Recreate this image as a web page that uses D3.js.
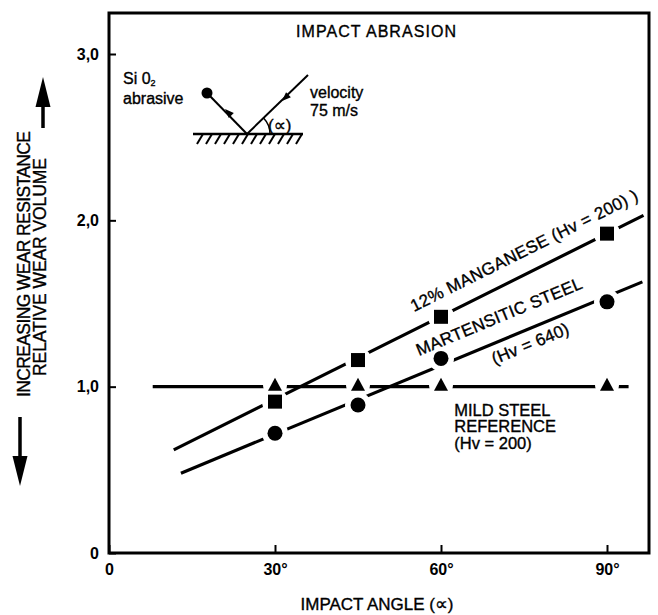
<!DOCTYPE html>
<html>
<head>
<meta charset="utf-8">
<script src="https://cdn.jsdelivr.net/npm/d3@7"></script>
<style>
  body { margin: 0; background: #fff; }
  svg { display: block; font-family: "Liberation Sans", Arial, Helvetica, sans-serif; }
  .lbl { stroke: #000; stroke-width: 0.35px; }
  .alpha { font-family: "DejaVu Sans", sans-serif; }
</style>
</head>
<body>
<div id="chart"></div>
<script>
// Data
const angleTicks = [0, 30, 60, 90];
const angleLabels = ["0", "30°", "60°", "90°"];
const volumeTicks = [0, 1, 2, 3];
const volumeLabels = ["0", "1,0", "2,0", "3,0"];

const angles = [30, 45, 60, 90];
const manganese = [0.91, 1.16, 1.42, 1.92];
const martensitic = [0.72, 0.89, 1.17, 1.51];
const mildSteel = [1.0, 1.0, 1.0, 1.0];

// hand drawn trend lines, [angle, volume] end points
const manganeseFit = [[11.7, 0.62], [96.6, 2.03]];
const martensiticFit = [[13.0, 0.48], [96.4, 1.63]];
const mildSteelFit = [[7.9, 1.0], [93.9, 1.0]];

const width = 658,
    height = 615;

const svg = d3.select("#chart")
    .append("svg")
    .attr("width", width)
    .attr("height", height);

const x = d3.scaleLinear().domain([0, 90]).range([109, 607]);
const y = d3.scaleLinear().domain([0, 3]).range([553, 54]);

const frameRight = 649,
    frameTop = 13;

// Trend lines
const line = d3.line().x(d => x(d[0])).y(d => y(d[1]));
const lines = svg.append("g")
    .attr("fill", "none")
    .attr("stroke", "#000")
    .attr("stroke-width", 3.2);
[manganeseFit, martensiticFit, mildSteelFit].forEach(f => {
    lines.append("path").attr("d", line(f));
});

// White halos so the lines break around the markers
const halos = svg.append("g").attr("fill", "#fff");
angles.forEach((a, i) => {
    halos.append("circle").attr("cx", x(a)).attr("cy", y(manganese[i])).attr("r", 13);
    halos.append("circle").attr("cx", x(a)).attr("cy", y(martensitic[i])).attr("r", 13);
    halos.append("circle").attr("cx", x(a)).attr("cy", y(mildSteel[i]) - 2).attr("r", 12);
});

// Markers
const marks = svg.append("g").attr("fill", "#000");
marks.selectAll("rect")
    .data(angles)
    .enter()
    .append("rect")
    .attr("x", d => x(d) - 7)
    .attr("y", (d, i) => y(manganese[i]) - 7)
    .attr("width", 14)
    .attr("height", 14);
marks.selectAll("circle")
    .data(angles)
    .enter()
    .append("circle")
    .attr("cx", d => x(d))
    .attr("cy", (d, i) => y(martensitic[i]))
    .attr("r", 7.5);
marks.selectAll("path")
    .data(angles)
    .enter()
    .append("path")
    .attr("d", (d, i) => {
        const cx = x(d), cy = y(mildSteel[i]);
        return `M${cx - 7},${cy + 4} L${cx + 7},${cy + 4} L${cx},${cy - 9} Z`;
    });

// Frame
svg.append("rect")
    .attr("x", x(0))
    .attr("y", frameTop)
    .attr("width", frameRight - x(0))
    .attr("height", y(0) - frameTop)
    .attr("fill", "none")
    .attr("stroke", "#000")
    .attr("stroke-width", 3);

// Axes
const yAxis = svg.append("g")
    .attr("transform", `translate(${x(0)},0)`)
    .call(d3.axisLeft(y)
        .tickValues(volumeTicks)
        .tickSize(-7)
        .tickPadding(10)
        .tickFormat((d, i) => volumeLabels[i]));
const xAxis = svg.append("g")
    .attr("transform", `translate(0,${y(0)})`)
    .call(d3.axisBottom(x)
        .tickValues(angleTicks)
        .tickSize(-8)
        .tickPadding(11)
        .tickFormat((d, i) => angleLabels[i]));
[xAxis, yAxis].forEach(ax => {
    ax.select(".domain").remove();
    ax.selectAll("line").attr("stroke-width", 2);
    ax.selectAll("text")
        .attr("font-family", "Liberation Sans, Arial, sans-serif")
        .attr("font-size", 16)
        .attr("font-weight", "bold")
        .attr("fill", "#000");
});

// Axis titles
const xTitle = svg.append("text")
    .attr("class", "lbl")
    .attr("x", 377)
    .attr("y", 610)
    .attr("text-anchor", "middle")
    .attr("font-size", 17);
xTitle.append("tspan").text("IMPACT ANGLE (");
xTitle.append("tspan").attr("class", "alpha").attr("font-size", 18).text("∝");
xTitle.append("tspan").text(")");

svg.append("text")
    .attr("class", "lbl")
    .attr("transform", "translate(30,264) rotate(-90)")
    .attr("text-anchor", "middle")
    .attr("font-size", 17.5)
    .attr("textLength", 266)
    .text("INCREASING WEAR RESISTANCE");
svg.append("text")
    .attr("class", "lbl")
    .attr("transform", "translate(46,267) rotate(-90)")
    .attr("text-anchor", "middle")
    .attr("font-size", 17.5)
    .attr("textLength", 218)
    .text("RELATIVE WEAR VOLUME");

// Big arrows beside the y title
function bigArrow(cx, tail, tip) {
    const dir = tip < tail ? -1 : 1;
    const headBase = tip - dir * 30;
    svg.append("line")
        .attr("x1", cx).attr("y1", tail)
        .attr("x2", cx).attr("y2", headBase)
        .attr("stroke", "#000").attr("stroke-width", 3.5);
    svg.append("path")
        .attr("d", `M${cx - 7.5},${headBase} L${cx + 7.5},${headBase} L${cx},${tip} Z`)
        .attr("fill", "#000");
}
bigArrow(43, 128, 77);
bigArrow(20, 417, 486);

// Title
svg.append("text")
    .attr("class", "lbl")
    .attr("x", 376)
    .attr("y", 37)
    .attr("text-anchor", "middle")
    .attr("font-size", 16)
    .attr("textLength", 160)
    .text("IMPACT ABRASION");

// Labels along the lines
function labelAlong(fit, at, offset, txt, len) {
    const [p0, p1] = fit;
    const theta = Math.atan2(y(p1[1]) - y(p0[1]), x(p1[0]) - x(p0[0])) * 180 / Math.PI;
    const v = p0[1] + (p1[1] - p0[1]) * (at - p0[0]) / (p1[0] - p0[0]);
    svg.append("text")
        .attr("class", "lbl")
        .attr("transform", `translate(${x(at)},${y(v)}) rotate(${theta})`)
        .attr("dy", -offset)
        .attr("font-size", 17)
        .attr("textLength", len)
        .text(txt);
}
labelAlong(manganeseFit, 56.4, 16, "12% MANGANESE (Hv = 200) )", 252);
labelAlong(martensiticFit, 57.2, 17, "MARTENSITIC STEEL", 178);
labelAlong(martensiticFit, 68.3, -20, "(Hv = 640)", 82);

const mild = svg.append("text")
    .attr("class", "lbl")
    .attr("x", x(62.4))
    .attr("y", y(1.0) + 29)
    .attr("font-size", 16.5);
["MILD STEEL", "REFERENCE", "(Hv = 200)"].forEach((t, i) => {
    mild.append("tspan")
        .attr("x", x(62.4))
        .attr("dy", i === 0 ? 0 : 16.8)
        .text(t);
});

// Impact sketch
const sk = svg.append("g").attr("stroke", "#000").attr("fill", "#000");
const ox = 247, oy = 134;
sk.append("line").attr("x1", 193).attr("y1", oy).attr("x2", 303).attr("y2", oy).attr("stroke-width", 2.5);
d3.range(12).forEach(i => {
    const hx = 203 + i * 9;
    sk.append("line")
        .attr("x1", hx).attr("y1", oy)
        .attr("x2", hx - 6).attr("y2", oy + 10)
        .attr("stroke-width", 2);
});
sk.append("line").attr("x1", ox).attr("y1", oy).attr("x2", 207).attr("y2", 93).attr("stroke-width", 2);
sk.append("line").attr("x1", ox).attr("y1", oy).attr("x2", 308).attr("y2", 75).attr("stroke-width", 2);
sk.append("circle").attr("cx", 207).attr("cy", 93).attr("r", 5.5).attr("stroke", "none");

function headAt(px, py, ang) {
    const a = ang * Math.PI / 180;
    const ux = Math.cos(a), uy = Math.sin(a);
    const bx = px - ux * 9, by = py - uy * 9;
    sk.append("path")
        .attr("stroke", "none")
        .attr("d", `M${px},${py} L${bx - uy * 3.5},${by + ux * 3.5} L${bx + uy * 3.5},${by - ux * 3.5} Z`);
}
headAt(225, 109, Math.atan2(93 - oy, 207 - ox) * 180 / Math.PI);
headAt(282, 101, Math.atan2(oy - 75, ox - 308) * 180 / Math.PI);

const arc = d3.arc()
    .innerRadius(23).outerRadius(23)
    .startAngle(Math.PI / 2 - 0.77).endAngle(Math.PI / 2);
sk.append("path")
    .attr("transform", `translate(${ox},${oy})`)
    .attr("d", arc())
    .attr("fill", "none")
    .attr("stroke-width", 1.5);

const note = svg.append("g").attr("font-size", 16).attr("class", "lbl");
const alphaNote = note.append("text").attr("x", 268).attr("y", 131).attr("font-size", 17);
alphaNote.append("tspan").text("(");
alphaNote.append("tspan").attr("class", "alpha").attr("font-size", 17).text("∝");
alphaNote.append("tspan").text(")");
const si = note.append("text").attr("x", 123).attr("y", 84);
si.append("tspan").text("Si 0");
si.append("tspan").attr("font-size", 9).attr("dy", 2).text("2");
note.append("text").attr("x", 123).attr("y", 104).text("abrasive");
note.append("text").attr("x", 310).attr("y", 98).text("velocity");
note.append("text").attr("x", 310).attr("y", 116).text("75 m/s");
</script>
</body>
</html>
